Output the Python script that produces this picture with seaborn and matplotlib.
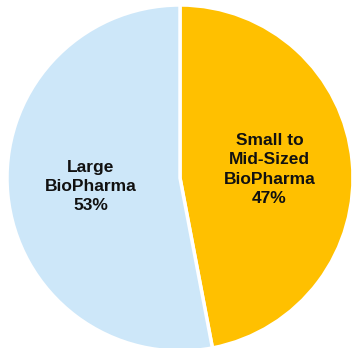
import matplotlib
matplotlib.use("Agg")
import matplotlib.pyplot as plt
import seaborn as sns

sns.set_theme(style="white")
plt.rcParams['font.family'] = ['Liberation Sans', 'DejaVu Sans']

categories = ["Small to\nMid-Sized\nBioPharma", "Large\nBioPharma"]
values = [47, 53]
colors = ["#FFC000", "#CDE7F9"]

fig = plt.figure(figsize=(3.52, 3.48), dpi=100)
ax = fig.add_axes([7/352, -3/348, 346/352, 346/348])

labels = [f"{c}\n{v}%" for c, v in zip(categories, values)]
wedges, texts = ax.pie(values, colors=colors, startangle=90, counterclock=False,
                       labels=labels, labeldistance=0.52,
                       wedgeprops=dict(edgecolor="white", linewidth=2.5),
                       textprops=dict(fontsize=12.5, fontweight="bold", color="#111111",
                                      ha="center", va="center", linespacing=1.35))
for t in texts:
    t.set_horizontalalignment("center")
ax.set_xlim(-1.0, 1.0)
ax.set_ylim(-1.0, 1.0)
ax.set_aspect("equal")
ax.axis("off")
fig.savefig("out.png", dpi=100)
